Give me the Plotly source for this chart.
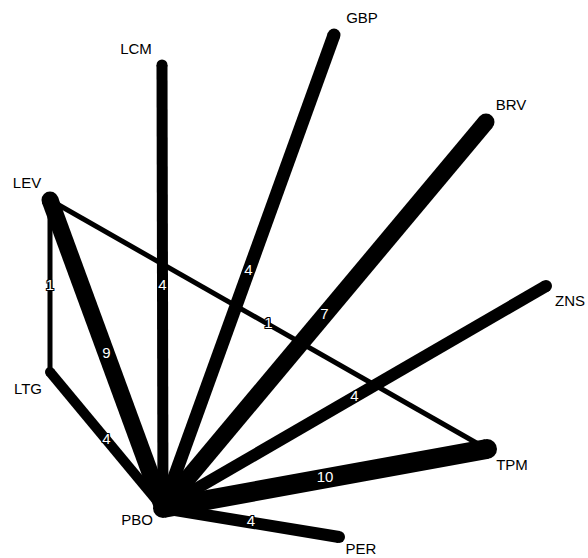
import plotly.graph_objects as go

# Nodes (layout coordinates, pixel-like units)
nodes = ["PBO", "LEV", "LTG", "LCM", "GBP", "BRV", "ZNS", "TPM", "PER"]
node_x = [163, 50, 50, 162, 334, 486, 546, 487, 339]
node_y = [508, 200, 372, 65, 35, 122, 286, 449, 537]

# Edges: pairs and number of studies
edge_from = ["PBO", "PBO", "PBO", "PBO", "PBO", "PBO", "PBO", "PBO", "LEV", "LEV"]
edge_to = ["LEV", "LTG", "LCM", "GBP", "BRV", "ZNS", "TPM", "PER", "LTG", "TPM"]
edge_studies = [9, 4, 4, 4, 7, 4, 10, 4, 1, 1]

# line thickness for each edge (style)
edge_width = [17, 10, 11, 13, 17, 12, 20, 12, 5, 5]

pos = {n: (x, y) for n, x, y in zip(nodes, node_x, node_y)}

fig = go.Figure()

for a, b, w in zip(edge_from, edge_to, edge_width):
    (x0, y0), (x1, y1) = pos[a], pos[b]
    fig.add_trace(go.Scatter(
        x=[x0, x1], y=[y0, y1], mode="lines+markers",
        line=dict(color="black", width=w),
        marker=dict(color="black", size=w, line=dict(width=0)),
        hoverinfo="skip", showlegend=False,
    ))

outline = ("1px 1px 0 black, -1px -1px 0 black, 1px -1px 0 black, -1px 1px 0 black, "
           "0 1px 0 black, 0 -1px 0 black, 1px 0 0 black, -1px 0 0 black")

# edge labels at midpoints
mx = [(pos[a][0] + pos[b][0]) / 2 for a, b in zip(edge_from, edge_to)]
my = [(pos[a][1] + pos[b][1]) / 2 for a, b in zip(edge_from, edge_to)]
fig.add_trace(go.Scatter(
    x=mx, y=my, mode="text", text=[str(s) for s in edge_studies],
    textfont=dict(color="white", size=15, family="Liberation Sans", shadow=outline),
    textposition="middle center", hoverinfo="skip", showlegend=False,
))

# node labels
label_dx = {"PBO": -26, "LEV": -23, "LTG": -22, "LCM": -26, "GBP": 28,
            "BRV": 25, "ZNS": 24, "TPM": 25, "PER": 22}
label_dy = {"PBO": 13, "LEV": -16, "LTG": 18, "LCM": -15, "GBP": -16,
            "BRV": -16, "ZNS": 16, "TPM": 17, "PER": 13}
fig.add_trace(go.Scatter(
    x=[x + label_dx[n] for n, x in zip(nodes, node_x)],
    y=[y + label_dy[n] for n, y in zip(nodes, node_y)],
    mode="text", text=nodes, cliponaxis=False,
    textfont=dict(color="black", size=15, family="Liberation Sans"),
    textposition="middle center", hoverinfo="skip", showlegend=False,
))

fig.update_layout(
    width=588, height=558,
    margin=dict(l=0, r=0, t=0, b=0),
    paper_bgcolor="white", plot_bgcolor="white",
    xaxis=dict(range=[0, 588], visible=False, fixedrange=True),
    yaxis=dict(range=[558, 0], visible=False, fixedrange=True),
)

fig.write_html("out.html", config={"displayModeBar": False},
               post_script="document.body.style.margin='0px';")
